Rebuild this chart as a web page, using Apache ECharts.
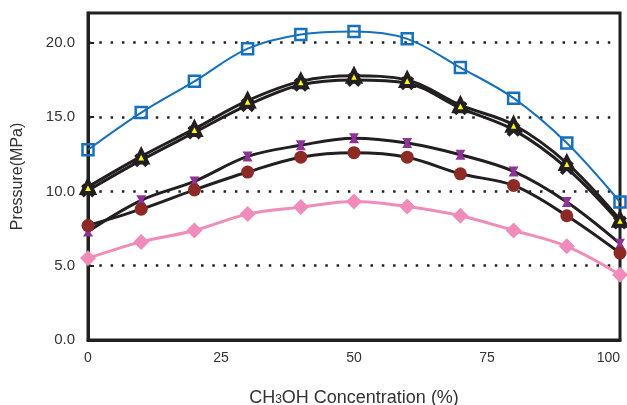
<!DOCTYPE html>
<html>
<head>
<meta charset="utf-8">
<script src="https://cdn.jsdelivr.net/npm/echarts@6/dist/echarts.min.js"></script>
<style>html,body{margin:0;padding:0;background:#fff}#c{width:627px;height:405px}</style>
</head>
<body>
<div id="c"></div>
<script>
const concentration = [0, 10, 20, 30, 40, 50, 60, 70, 80, 90, 100];
const seriesBlue     = [12.8, 15.3, 17.4, 19.6, 20.55, 20.75, 20.26, 18.33, 16.27, 13.25, 9.28];
const seriesTriangle = [10.3, 12.35, 14.2, 16.1, 17.4, 17.77, 17.5, 15.8, 14.48, 11.9, 8.09];
const seriesCross    = [10.06, 12.1, 13.96, 15.8, 17.17, 17.5, 17.28, 15.6, 14.14, 11.57, 7.9];
const seriesPurple   = [7.3, 9.4, 10.67, 12.35, 13.1, 13.58, 13.25, 12.46, 11.34, 9.28, 6.48];
const seriesRed      = [7.7, 8.8, 10.1, 11.3, 12.3, 12.6, 12.3, 11.18, 10.4, 8.36, 5.85];
const seriesPink     = [5.5, 6.6, 7.37, 8.47, 8.94, 9.32, 8.98, 8.36, 7.37, 6.3, 4.39];
const xTicks = [0, 25, 50, 75, 100];
const yTicks = [0, 5, 10, 15, 20];

const xShape = 'path://M0,2 L2,0 L5,3 L8,0 L10,2 L7,5 L10,8 L8,10 L5,7 L2,10 L0,8 L3,5 Z';
const bowShape = 'path://M0,0 L10,0 L7,5 L10,10 L0,10 L3,5 Z';
const pair = arr => concentration.map((c, i) => [c, arr[i]]);
const ink = '#231f20';

function mk(name, data, lineColor, lineWidth, symbol, size, item, z) {
  return {
    name, type: 'line', data: pair(data), smooth: 0.35,
    symbol, symbolSize: size, showSymbol: true,
    lineStyle: { color: lineColor, width: lineWidth },
    itemStyle: item, z: z, emphasis: { disabled: true }
  };
}

const chart = echarts.init(document.getElementById('c'), null, { renderer: 'canvas' });
chart.setOption({
  animation: false,
  backgroundColor: '#ffffff',
  grid: { left: 88, right: 7, top: 13, bottom: 65, containLabel: false, outerBoundsMode: 'none',
    show: true, borderColor: ink, borderWidth: 3, backgroundColor: 'transparent' },
  xAxis: {
    type: 'value', min: 0, max: 100, interval: 25,
    name: '{a|CH}{s|3}{a|OH Concentration (%)}',
    nameLocation: 'middle', nameGap: 49,
    nameTextStyle: { rich: {
      a: { fontFamily: 'Liberation Sans, Arial', fontSize: 18, color: '#333' },
      s: { fontFamily: 'Liberation Sans, Arial', fontSize: 12, color: '#333', padding: [3, 0, 0, 0] }
    } },
    axisLine: { show: true, lineStyle: { color: ink, width: 3 } },
    axisTick: { show: false },
    splitLine: { show: false },
    axisLabel: { fontFamily: 'Liberation Sans, Arial', fontSize: 14, color: '#333', margin: 11,
      customValues: xTicks, alignMaxLabel: 'right',
      formatter: v => String(v) }
  },
  yAxis: {
    type: 'value', min: 0, max: 22, interval: 5,
    name: 'Pressure(MPa)', nameLocation: 'middle', nameGap: 62,
    nameTextStyle: { fontFamily: 'Liberation Sans, Arial', fontSize: 16, color: '#333' },
    axisLine: { show: true, lineStyle: { color: ink, width: 3 } },
    axisTick: { show: true, inside: true, length: 6, lineStyle: { color: ink, width: 2 }, customValues: yTicks },
    axisLabel: { fontFamily: 'Liberation Sans, Arial', fontSize: 15, color: '#333', margin: 13,
      customValues: yTicks, formatter: v => v.toFixed(1) },
    splitLine: { show: true, showMinLine: false, showMaxLine: true,
      lineStyle: { color: ink, width: 2.5, type: [2.5, 8.8] } }
  },
  series: [
    mk('blue', seriesBlue, '#1670bd', 2, 'rect', 11,
       { color: 'rgba(255,255,255,0)', borderColor: '#1670bd', borderWidth: 2.5 }, 3),
    mk('cross', seriesCross, ink, 3, xShape, 14, { color: ink }, 3),
    mk('triangle', seriesTriangle, ink, 3, 'triangle', 12,
       { color: '#ffff00', borderColor: ink, borderWidth: 4 }, 4),
    mk('purple', seriesPurple, ink, 3, bowShape, 10, { color: '#8e3496' }, 3),
    mk('red', seriesRed, ink, 3, 'circle', 13, { color: '#8e2a26' }, 4),
    mk('pink', seriesPink, '#f08cb9', 3, 'diamond', 16, { color: '#f08cb9' }, 3)
  ]
});
</script>
</body>
</html>
